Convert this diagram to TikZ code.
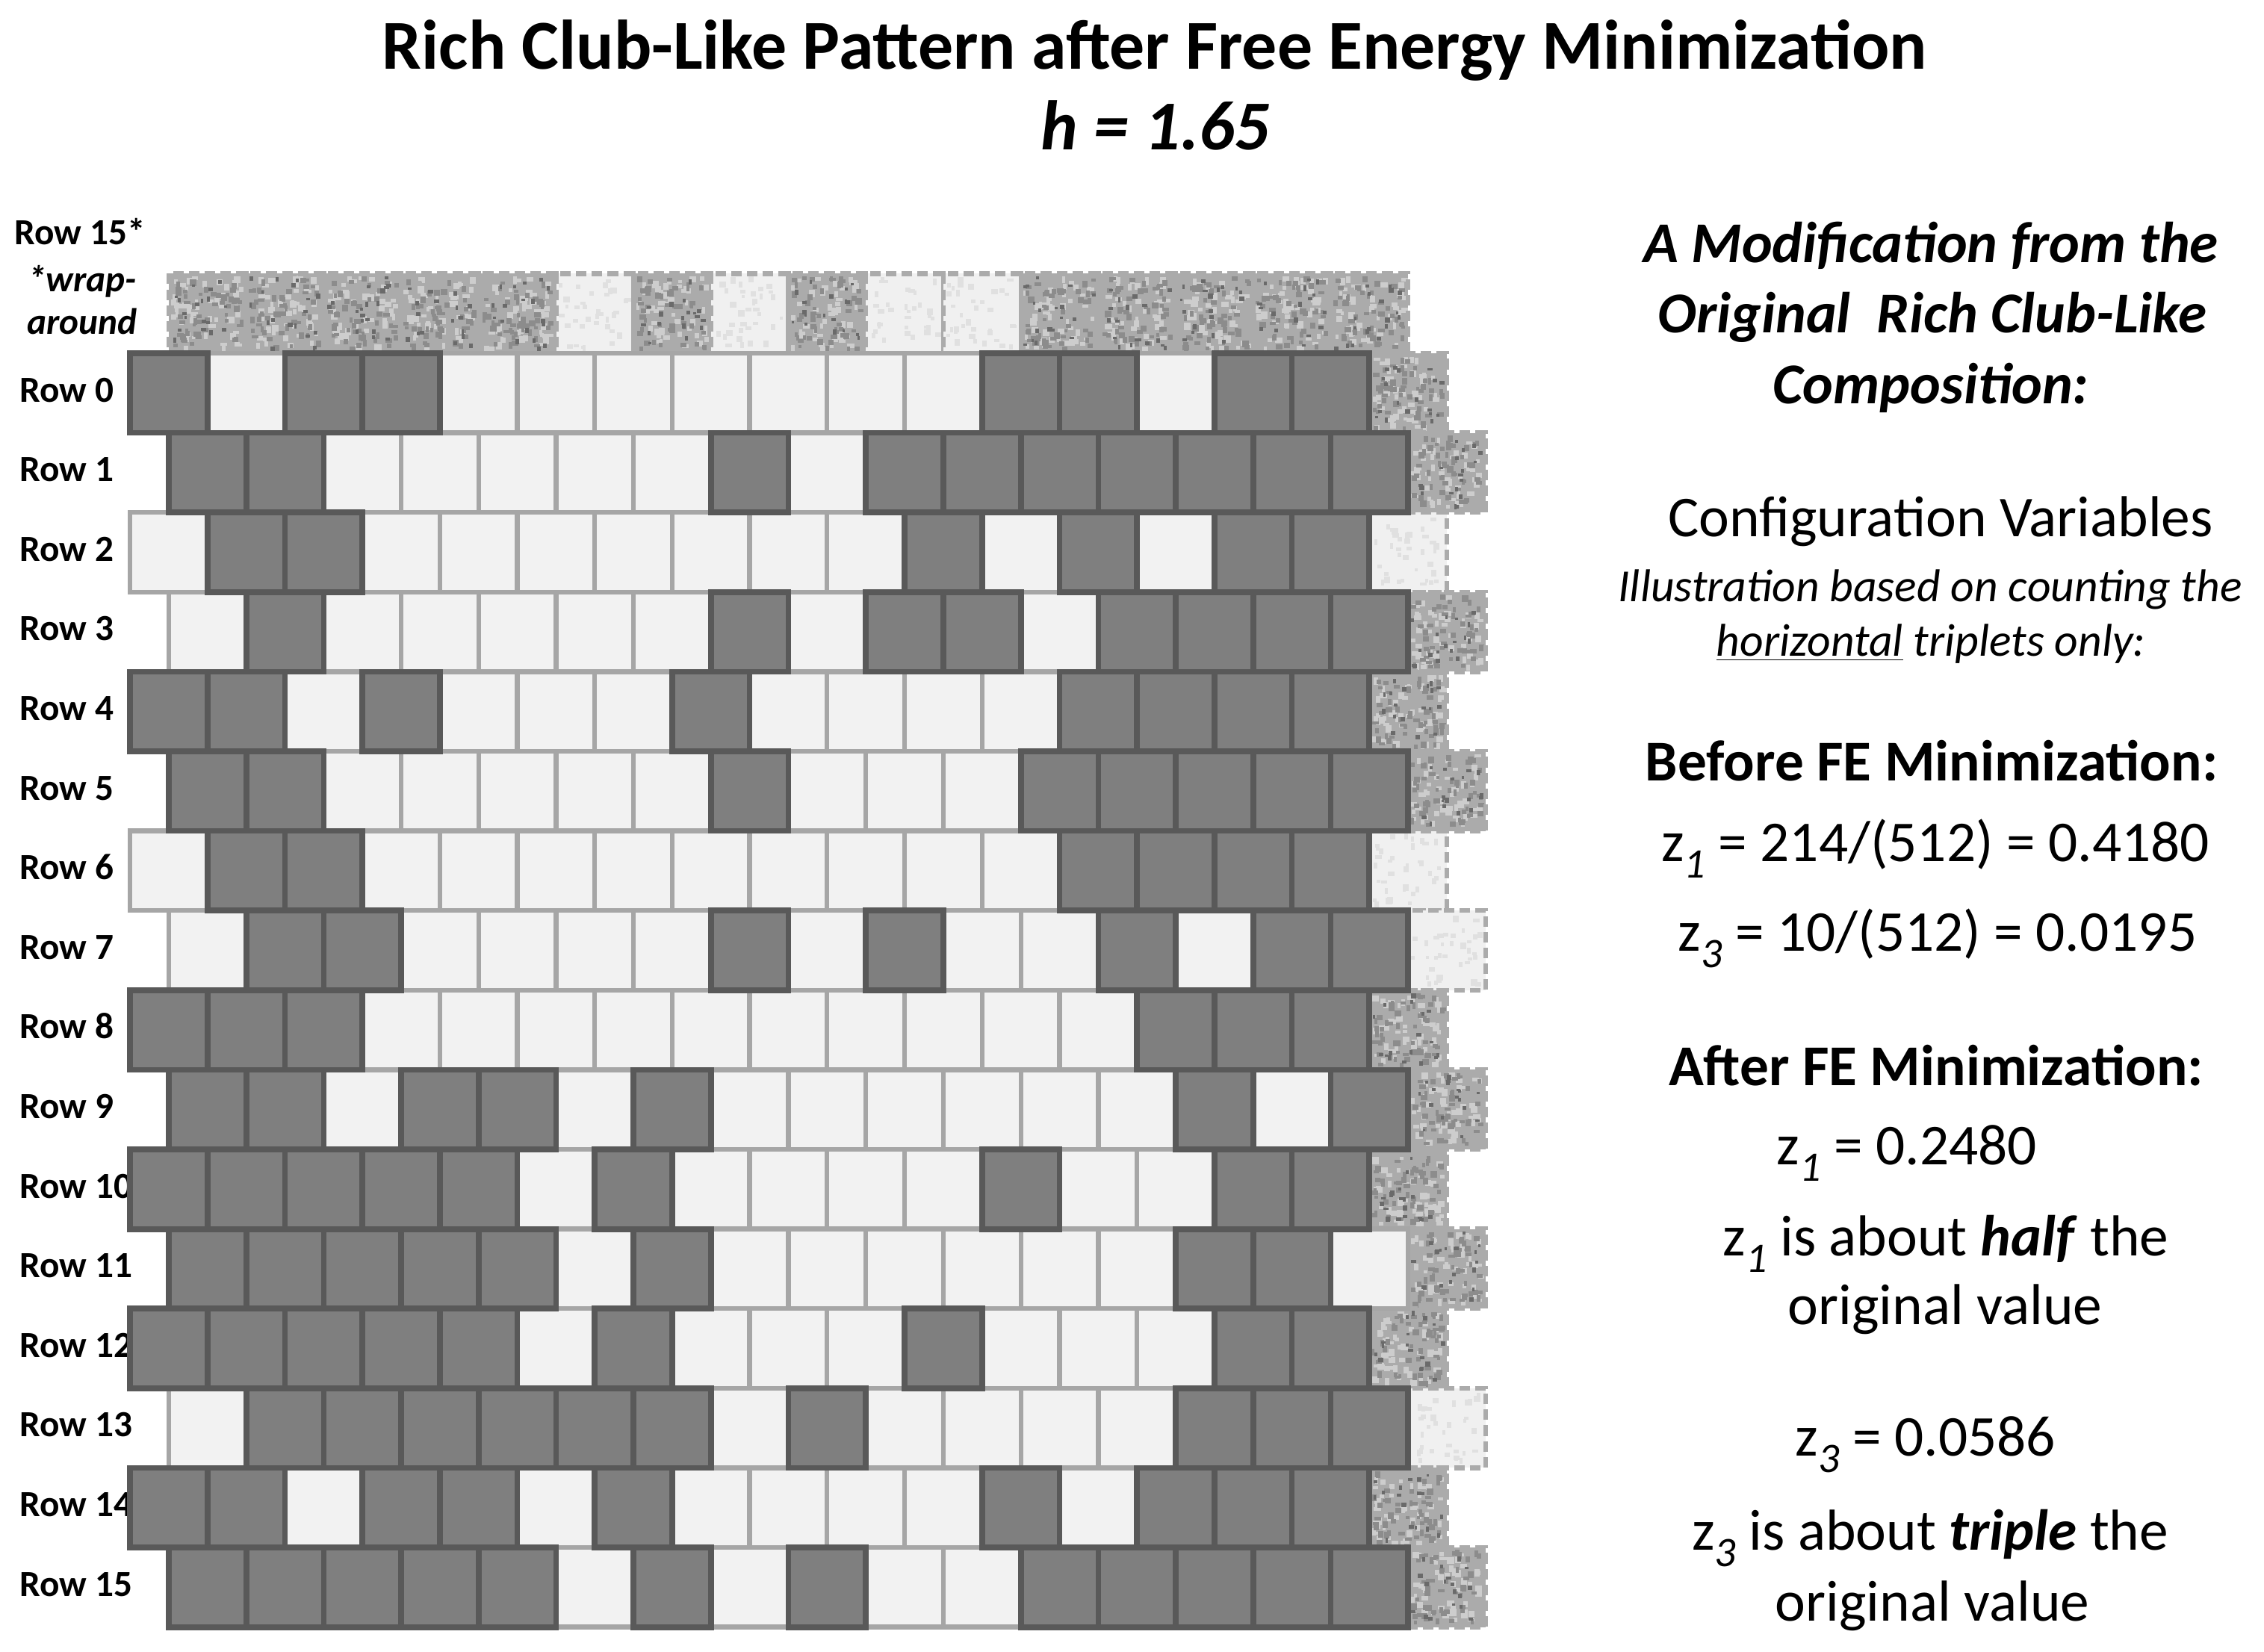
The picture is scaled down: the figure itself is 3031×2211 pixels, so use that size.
\documentclass[tikz,border=0pt]{standalone}
\usepackage{fontspec}
\setmainfont{Carlito}
\definecolor{dkfill}{HTML}{7F7F7F}
\definecolor{dkline}{HTML}{595959}
\definecolor{ltfill}{HTML}{F2F2F2}
\definecolor{ltline}{HTML}{A6A6A6}
\definecolor{gbase}{HTML}{ABABAB}
\definecolor{gmid}{HTML}{8C8C8C}
\definecolor{gdark}{HTML}{6A6A6A}
\definecolor{glight}{HTML}{CDCDCD}
\definecolor{lbase}{HTML}{F0F0F0}
\definecolor{lspeck}{HTML}{E0E0E0}
\definecolor{wline}{HTML}{ABABAB}
\newcommand\zsub[1]{\raisebox{-0.6ex}{\fontsize{16}{16}\selectfont\itshape #1}}
\newcommand\cellrows{%
0/{1,0,1,1,0,0,0,0,0,0,0,1,1,0,1,1},%
1/{1,1,0,0,0,0,0,1,0,1,1,1,1,1,1,1},%
2/{0,1,1,0,0,0,0,0,0,0,1,0,1,0,1,1},%
3/{0,1,0,0,0,0,0,1,0,1,1,0,1,1,1,1},%
4/{1,1,0,1,0,0,0,1,0,0,0,0,1,1,1,1},%
5/{1,1,0,0,0,0,0,1,0,0,0,1,1,1,1,1},%
6/{0,1,1,0,0,0,0,0,0,0,0,0,1,1,1,1},%
7/{0,1,1,0,0,0,0,1,0,1,0,0,1,0,1,1},%
8/{1,1,1,0,0,0,0,0,0,0,0,0,0,1,1,1},%
9/{1,1,0,1,1,0,1,0,0,0,0,0,0,1,0,1},%
10/{1,1,1,1,1,0,1,0,0,0,0,1,0,0,1,1},%
11/{1,1,1,1,1,0,1,0,0,0,0,0,0,1,1,0},%
12/{1,1,1,1,1,0,1,0,0,0,1,0,0,0,1,1},%
13/{0,1,1,1,1,1,1,0,1,0,0,0,0,1,1,1},%
14/{1,1,0,1,1,0,1,0,0,0,0,1,0,1,1,1},%
15/{1,1,1,1,1,0,1,0,1,0,0,1,1,1,1,1}}
\newcommand\granite[3]{%
  \ifnum#3=1
    \fill[gbase] ({#1},{#2}) rectangle ++(103.7,106.6);
    \foreach \k in {1,...,50}{\fill[glight] ({#1+3+rnd*92},{#2+3+rnd*95}) rectangle ++({4+rnd*6},{4+rnd*6});}
    \foreach \k in {1,...,50}{\fill[gmid] ({#1+3+rnd*92},{#2+3+rnd*95}) rectangle ++({4+rnd*5},{4+rnd*5});}
    \foreach \k in {1,...,18}{\fill[gdark] ({#1+3+rnd*93},{#2+3+rnd*96}) rectangle ++({3+rnd*4},{3+rnd*4});}
  \else
    \fill[lbase] ({#1},{#2}) rectangle ++(103.7,106.6);
    \foreach \k in {1,...,35}{\fill[lspeck] ({#1+3+rnd*90},{#2+3+rnd*94}) rectangle ++({4+rnd*5},{4+rnd*5});}
  \fi
  \draw[wrapline] ({#1},{#2}) rectangle ++(103.7,106.6);
}
\tikzset{
  ltcell/.style={draw=ltline, fill=ltfill, line width=1.8pt},
  dkcell/.style={draw=dkline, fill=dkfill, line width=2.2pt},
  wrapline/.style={draw=wline, line width=1.8pt, dash pattern=on 4pt off 2pt},
  rowlab/.style={font=\fontsize{14}{16}\selectfont\bfseries, inner sep=0pt, anchor=base west},
  wraplab/.style={font=\fontsize{14}{16}\selectfont\bfseries\itshape, inner sep=0pt, anchor=base},
  titletxt/.style={font=\fontsize{26.7}{30}\selectfont\bfseries, inner sep=0pt, anchor=base},
  rtxt/.style={font=\fontsize{22}{26}\selectfont, inner sep=0pt, anchor=base},
  rsmall/.style={font=\fontsize{17.5}{20}\selectfont\itshape, inner sep=0pt, anchor=base}
}
\begin{document}
\begin{tikzpicture}[x=0.01cm, y=-0.01cm]
\path[use as bounding box] (0,0) rectangle (3031,2211);
\pgfmathsetseed{4242}
% title
\node[titletxt] (title) at (1546,92) {Rich Club-Like Pattern after Free Energy Minimization};
\node[titletxt, font=\fontsize{26.7}{30}\selectfont\bfseries\itshape] (hval) at (1547,200) {h = 1.65};
% left labels
\node[rowlab] (lab15s) at (19,327) {Row 15*};
\node[wraplab] (wrap1) at (110,390) {*wrap-};
\node[wraplab] (wrap2) at (110,447) {around};
\foreach \r in {0,...,15}{
  \node[rowlab] (lab\r) at (26,{538+106.6*\r}) {Row \r};
}
% wrap-around top row (row 15 copy)
\foreach \v [count=\c from 0] in {1,1,1,1,1,0,1,0,1,0,0,1,1,1,1,1}{
  \granite{226+103.7*\c}{366.4}{\v}
}
% wrap-around right column
\foreach \r/\v in {0/1,1/1,2/0,3/1,4/1,5/1,6/0,7/0,8/1,9/1,10/1,11/1,12/1,13/0,14/1,15/1}{
  \pgfmathsetmacro\xw{mod(\r,2)==1 ? 1885 : 1833}
  \granite{\xw}{473+106.6*\r}{\v}
}
% light cells
\foreach \r/\pat in \cellrows{
  \pgfmathsetmacro\xo{mod(\r,2)==1 ? 226 : 174}
  \pgfmathsetmacro\yo{473+106.6*\r}
  \foreach \v [count=\c from 0] in \pat{
    \ifnum\v=0 \draw[ltcell] ({\xo+103.7*\c},\yo) rectangle ++(103.7,106.6); \fi
  }
}
% dark cells
\foreach \r/\pat in \cellrows{
  \pgfmathsetmacro\xo{mod(\r,2)==1 ? 226 : 174}
  \pgfmathsetmacro\yo{473+106.6*\r}
  \foreach \v [count=\c from 0] in \pat{
    \ifnum\v=1 \draw[dkcell] ({\xo+103.7*\c},\yo) rectangle ++(103.7,106.6); \fi
  }
}
% right text
\node[rtxt, font=\fontsize{22}{26}\selectfont\bfseries\itshape] (m1) at (2585,351) {A Modification from the};
\node[rtxt, font=\fontsize{22}{26}\selectfont\bfseries\itshape] (m2) at (2587,445) {Original\ \ Rich Club-Like};
\node[rtxt, font=\fontsize{22}{26}\selectfont\bfseries\itshape] (m3) at (2585,540) {Composition:};
\node[rtxt] (cv) at (2598,718) {Configuration Variables};
\node[rsmall] (il1) at (2584,805) {Illustration based on counting the};
\node[rsmall] (il2) at (2585,878) {\underline{horizontal} triplets only:};
\node[rtxt, font=\fontsize{22}{26}\selectfont\bfseries] (bef) at (2586,1045) {Before FE Minimization:};
\node[rtxt] (bz1) at (2591,1153) {z\zsub{1} = 214/(512) = 0.4180};
\node[rtxt] (bz3) at (2594,1273) {z\zsub{3} = 10/(512) = 0.0195};
\node[rtxt, font=\fontsize{22}{26}\selectfont\bfseries] (aft) at (2592,1453) {After FE Minimization:};
\node[rtxt] (az1) at (2553,1559) {z\zsub{1} = 0.2480};
\node[rtxt] (half) at (2605,1681) {z\zsub{1} is about \textbf{\textit{half}} the};
\node[rtxt] (ov1) at (2604,1773) {original value};
\node[rtxt] (az3) at (2578,1949) {z\zsub{3} = 0.0586};
\node[rtxt] (trip) at (2584,2075) {z\zsub{3} is about \textbf{\textit{triple}} the};
\node[rtxt] (ov2) at (2587,2170) {original value};
\end{tikzpicture}
\end{document}
